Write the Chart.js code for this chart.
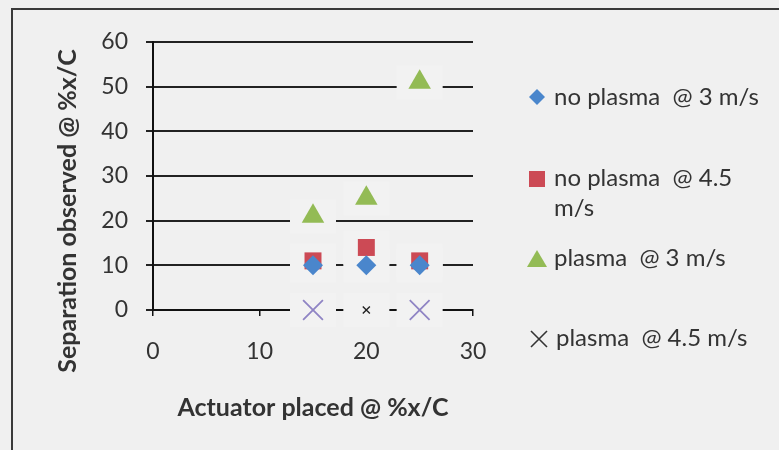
<!DOCTYPE html>
<html>
<head>
<meta charset="utf-8">
<script src="https://cdn.jsdelivr.net/npm/chart.js@4.4.0/dist/chart.umd.min.js"></script>
<style>
  html, body { margin: 0; padding: 0; background: #f0f0f0; }
  #wrap { position: relative; width: 779px; height: 450px; overflow: hidden; }
  #frame { position: absolute; left: 11px; top: 8px; width: 800px; height: 500px;
           border-left: 2px solid #3a3a3a; border-top: 2px solid #3a3a3a; }
  canvas { position: absolute; left: 0; top: 0; }
</style>
</head>
<body>
<div id="wrap">
  <div id="frame"></div>
  <canvas id="myChart" width="779" height="450"></canvas>
</div>
<script>
// actuator position (%x/C)
const xValues = [15, 20, 25]
// separation observed (%x/C) per series
const noPlasma3 = [10, 10, 10]
const noPlasma45 = [11, 14, 11]
const plasma3 = [21, 25, 51]
const plasma45 = [0, 0, 0]

const seriesNames = ['no plasma  @ 3 m/s', 'no plasma  @ 4.5 m/s', 'plasma  @ 3 m/s', 'plasma  @ 4.5 m/s']
const xTitle = 'Actuator placed @ %x/C'
const yTitle = 'Separation observed @ %x/C'

const FONT = 'Lato, "Open Sans", sans-serif'
const TEXT = '#333333'

function toPoints(ys) {
    return xValues.map((x, i) => ({ x: x, y: ys[i] }))
}

// the scanned original has a pale patch behind every marker that cuts the gridlines
const patchPlugin = {
    id: 'patch',
    beforeDatasetsDraw(chart) {
        const ctx = chart.ctx
        ctx.save()
        ctx.fillStyle = '#f2f2f2'
        chart.data.datasets.forEach((ds, i) => {
            chart.getDatasetMeta(i).data.forEach(pt => {
                ctx.fillRect(pt.x - 23, pt.y - 17, 46, 34)
            })
        })
        ctx.restore()
    }
}

// y title and legend drawn by hand so they sit where the original has them
const sidePlugin = {
    id: 'side',
    afterDraw(chart) {
        const ctx = chart.ctx
        ctx.save()
        ctx.fillStyle = TEXT
        ctx.font = 'bold 25px ' + FONT
        ctx.translate(68, 211)
        ctx.rotate(-Math.PI / 2)
        ctx.textAlign = 'center'
        ctx.textBaseline = 'middle'
        ctx.fillText(yTitle, 0, 0)
        ctx.restore()

        ctx.save()
        ctx.font = '24px ' + FONT
        ctx.fillStyle = TEXT
        ctx.textBaseline = 'middle'
        ctx.textAlign = 'left'
        const tx = 554

        // diamond
        ctx.fillStyle = '#4a86cc'
        ctx.beginPath()
        ctx.moveTo(537, 89); ctx.lineTo(545, 97); ctx.lineTo(537, 105); ctx.lineTo(529, 97)
        ctx.closePath(); ctx.fill()
        ctx.fillStyle = TEXT
        ctx.fillText(seriesNames[0], tx, 97)

        // square
        ctx.fillStyle = '#cc4a55'
        ctx.fillRect(529, 171, 16, 16)
        ctx.fillStyle = TEXT
        ctx.fillText('no plasma  @ 4.5', tx, 178)
        ctx.fillText('m/s', tx, 208)

        // triangle
        ctx.fillStyle = '#93bb55'
        ctx.beginPath()
        ctx.moveTo(537, 250); ctx.lineTo(547, 267); ctx.lineTo(527, 267)
        ctx.closePath(); ctx.fill()
        ctx.fillStyle = TEXT
        ctx.fillText(seriesNames[2], tx, 258)

        // cross
        ctx.strokeStyle = '#333'
        ctx.lineWidth = 1.6
        ctx.beginPath()
        ctx.moveTo(531, 331); ctx.lineTo(547, 347)
        ctx.moveTo(547, 331); ctx.lineTo(531, 347)
        ctx.stroke()
        ctx.fillText(seriesNames[3], tx + 2, 338)
        ctx.restore()
    }
}

function loaded() {
    const ctx = document.getElementById('myChart')

    new Chart(ctx, {
        type: 'scatter',
        data: {
            datasets: [
                {
                    label: seriesNames[3],
                    data: toPoints(plasma45),
                    pointStyle: 'crossRot',
                    pointRadius: [14, 5, 14],
                    borderColor: ['#8f84c4', '#222', '#8f84c4'],
                    pointBorderWidth: [1.8, 1.4, 1.8],
                    clip: false
                },
                {
                    label: seriesNames[0],
                    data: toPoints(noPlasma3),
                    pointStyle: 'rectRot',
                    pointRadius: 10,
                    backgroundColor: '#4a86cc',
                    borderColor: '#4a86cc',
                    borderWidth: 0,
                    clip: false
                },
                {
                    label: seriesNames[1],
                    data: toPoints(noPlasma45),
                    pointStyle: 'rect',
                    pointRadius: 12,
                    backgroundColor: '#cc4a55',
                    borderColor: '#cc4a55',
                    borderWidth: 0,
                    clip: false
                },
                {
                    label: seriesNames[2],
                    data: toPoints(plasma3),
                    pointStyle: 'triangle',
                    pointRadius: 13,
                    backgroundColor: '#93bb55',
                    borderColor: '#93bb55',
                    borderWidth: 0,
                    clip: false
                }
            ]
        },
        options: {
            responsive: false,
            animation: false,
            layout: { padding: { left: 0, right: 306, top: 42, bottom: 0 } },
            plugins: {
                legend: { display: false },
                tooltip: { enabled: false }
            },
            scales: {
                x: {
                    min: 0,
                    max: 30,
                    ticks: { stepSize: 10, padding: 22, color: TEXT, font: { family: FONT, size: 23 } },
                    grid: { drawOnChartArea: false, drawTicks: true, tickLength: 6, color: '#111', lineWidth: 1.5 },
                    border: { color: '#111', width: 2 },
                    title: { display: true, text: xTitle, color: TEXT, padding: { top: 0, bottom: 27 },
                             font: { family: FONT, size: 25, weight: 'bold' } },
                    afterFit(scale) { scale.height = 140 }
                },
                y: {
                    min: 0,
                    max: 60,
                    ticks: { stepSize: 10, padding: 18, color: TEXT, font: { family: FONT, size: 23 } },
                    grid: { color: '#222', lineWidth: 2, tickLength: 7 },
                    border: { color: '#111', width: 2 },
                    afterFit(scale) { scale.width = 153 }
                }
            }
        },
        plugins: [patchPlugin, sidePlugin]
    })
}

document.addEventListener('DOMContentLoaded', loaded)
</script>
</body>
</html>
